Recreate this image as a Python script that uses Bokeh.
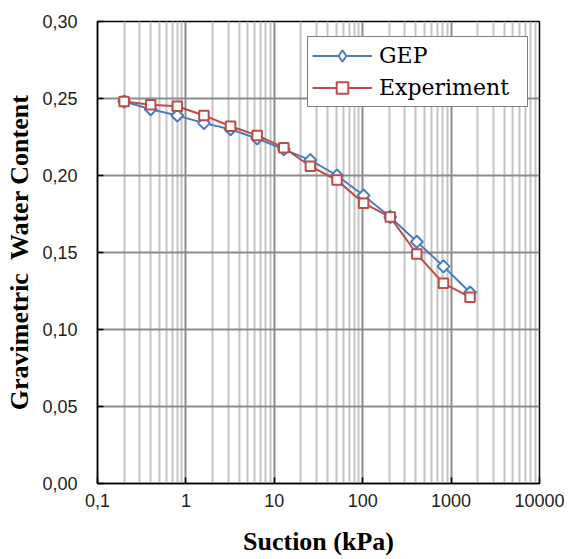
from bokeh.plotting import figure
from bokeh.models import FixedTicker, CustomJSTickFormatter, Legend, LegendItem, Range1d, ColumnDataSource
from bokeh.embed import file_html
from bokeh.resources import INLINE
import math

# Data
suction = [0.2, 0.4, 0.8, 1.6, 3.2, 6.4, 12.8, 25.6, 51.2, 102.4, 204.8, 409.6, 819.2, 1638.4]
gep = [0.248, 0.243, 0.239, 0.234, 0.230, 0.224, 0.217, 0.210, 0.200, 0.187, 0.173, 0.157, 0.141, 0.124]
experiment = [0.248, 0.246, 0.245, 0.239, 0.232, 0.226, 0.218, 0.206, 0.197, 0.182, 0.173, 0.149, 0.130, 0.121]
x_ticks = [0.1, 1, 10, 100, 1000, 10000]
y_ticks = [0.0, 0.05, 0.10, 0.15, 0.20, 0.25, 0.30]

minor = []
for d in x_ticks[:-1]:
    for k in range(2, 10):
        minor.append(d * k)

src = ColumnDataSource(dict(x=suction, gep=gep, exp=experiment))

p = figure(width=568, height=559, x_axis_type="log", output_backend="svg",
           toolbar_location=None, x_range=Range1d(0.1, 10000), y_range=Range1d(0, 0.30),
           min_border_left=97, min_border_right=29, min_border_top=21, min_border_bottom=76)

p.xaxis.ticker = FixedTicker(ticks=x_ticks, minor_ticks=minor)
p.yaxis.ticker = FixedTicker(ticks=y_ticks)
p.xaxis.formatter = CustomJSTickFormatter(code="return tick < 1 ? tick.toFixed(1).replace('.', ',') : tick.toFixed(0);")
p.yaxis.formatter = CustomJSTickFormatter(code="return tick.toFixed(2).replace('.', ',');")

for ax in (p.xaxis[0], p.yaxis[0]):
    ax.major_tick_in = 6
    ax.major_tick_out = 0
    ax.major_tick_line_color = "black"
    ax.major_tick_line_width = 1.5
    ax.minor_tick_in = 0
    ax.minor_tick_out = 0
    ax.axis_line_color = "black"
    ax.axis_line_width = 1.5
    ax.major_label_text_font = "Liberation Sans"
    ax.major_label_text_font_size = "18px"
    ax.major_label_text_color = "#222222"
    ax.axis_label_text_font = "Liberation Serif"
    ax.axis_label_text_font_style = "bold"
    ax.axis_label_text_font_size = "26px"
    ax.axis_label_text_color = "black"

p.xaxis.axis_label = "Suction (kPa)"
p.yaxis.axis_label = "Gravimetric\u00a0\u00a0Water Content"
p.xaxis.major_label_standoff = 10
p.yaxis.major_label_standoff = 20
p.xaxis.axis_label_standoff = 17
p.yaxis.axis_label_standoff = 5

p.xgrid.grid_line_color = "#8c8c8c"
p.xgrid.grid_line_width = 2
p.xgrid.minor_grid_line_color = "#c4c4c4"
p.xgrid.minor_grid_line_width = 2
p.ygrid.grid_line_color = "#8c8c8c"
p.ygrid.grid_line_width = 2

p.outline_line_color = "black"
p.outline_line_width = 1.5
p.background_fill_color = "white"

blue = "#4a7ebb"
red = "#be4b48"

l1 = p.line("x", "gep", source=src, line_color=blue, line_width=2)
# diamond glyph (used by the legend), covered exactly by the wider rotated-square marker
d1 = p.scatter("x", "gep", source=src, marker="diamond", size=12,
               line_color=blue, line_width=2, fill_color="white")
m1 = p.scatter("x", "gep", source=src, marker="square", angle=math.pi / 4, size=8.5,
               line_color=blue, line_width=2, fill_color="white")
l2 = p.line("x", "exp", source=src, line_color=red, line_width=2)
m2 = p.scatter("x", "exp", source=src, marker="square", size=9.5, line_color=red, line_width=2, fill_color="white")

legend = Legend(items=[LegendItem(label="GEP", renderers=[l1, d1]),
                       LegendItem(label="Experiment", renderers=[l2, m2])],
                location=(210, 376))
legend.label_text_font = "DejaVu Serif"
legend.label_text_font_size = "22px"
legend.label_text_color = "black"
legend.border_line_color = "black"
legend.border_line_width = 1.5
legend.glyph_width = 60
legend.glyph_height = 29
legend.label_width = 144
legend.label_height = 29
legend.padding = 4
legend.spacing = 3
legend.label_standoff = 7
legend.margin = 0
legend.background_fill_alpha = 1
p.add_layout(legend)

open("out.html", "w").write(file_html(p, INLINE))
